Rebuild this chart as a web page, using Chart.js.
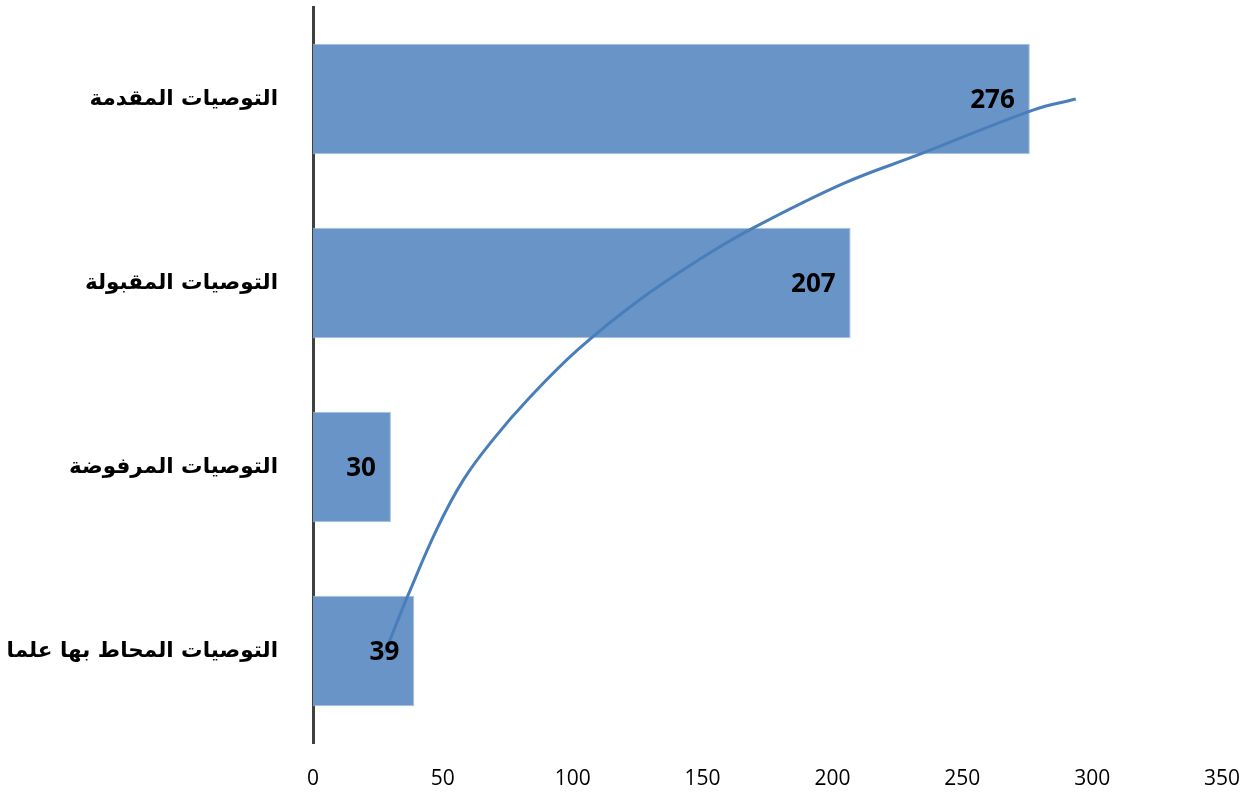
<!DOCTYPE html>
<html>
<head>
<meta charset="utf-8">
<script src="https://cdn.jsdelivr.net/npm/chart.js@4/dist/chart.umd.min.js"></script>
<style>
  html, body { margin: 0; padding: 0; background: #ffffff; }
  #wrap { width: 1257px; height: 792px; position: relative; }
</style>
</head>
<body>
<div id="wrap"><canvas id="c" width="1257" height="792"></canvas></div>
<script>
// Recommendation counts by status (top to bottom)
const categories = [
  'التوصيات المقدمة',
  'التوصيات المقبولة',
  'التوصيات المرفوضة',
  'التوصيات المحاط بها علما'
];
const counts = [276, 207, 30, 39];

// Trend line, sampled as (count, band position) pairs;
// band position 1 = centre of the bottom category, 4 = centre of the top one
const trendCounts    = [27.7, 31.6, 36.2, 47.6, 57.9, 69.4, 83.6, 102.2, 125.9, 149.0, 168.3, 204.1, 233.7, 277.2, 293.7];
const trendPositions = [0.99, 1.13, 1.29, 1.66, 1.93, 2.15, 2.38, 2.64,  2.91,  3.13,  3.29,  3.54,  3.70,  3.94,  4.00];

const xTicks = [0, 50, 100, 150, 200, 250, 300, 350];

const trendPoints = trendCounts.map((v, i) => ({ x: v, y: trendPositions[i] }));

// Value labels just inside the end of each bar
const barValueLabels = {
  id: 'barValueLabels',
  afterDatasetsDraw(chart) {
    const meta = chart.getDatasetMeta(0);
    const ctx = chart.ctx;
    ctx.save();
    ctx.font = 'bold 26px "Open Sans", "Liberation Sans", sans-serif';
    ctx.fillStyle = '#000000';
    ctx.textAlign = 'right';
    ctx.textBaseline = 'middle';
    meta.data.forEach((bar, i) => {
      ctx.fillText(String(counts[i]), bar.x - 15, bar.y + 2);
    });
    ctx.restore();
  }
};

new Chart(document.getElementById('c'), {
  type: 'bar',
  data: {
    labels: categories,
    datasets: [
      {
        type: 'bar',
        indexAxis: 'y',
        data: counts,
        backgroundColor: '#6994c7',
        borderColor: '#a9c1e0',
        borderWidth: 1,
        barPercentage: 0.6,
        categoryPercentage: 1.0,
        xAxisID: 'x',
        yAxisID: 'y',
        order: 2
      },
      {
        type: 'scatter',
        showLine: true,
        data: trendPoints,
        borderColor: '#4a7ebb',
        borderWidth: 3,
        pointRadius: 0,
        fill: false,
        tension: 0.4,
        xAxisID: 'x',
        yAxisID: 'yTrend',
        order: 1
      }
    ]
  },
  options: {
    responsive: false,
    animation: false,
    layout: { padding: { left: 0, right: 35, top: 7, bottom: 0 } },
    plugins: {
      legend: { display: false },
      tooltip: { enabled: false }
    },
    scales: {
      x: {
        type: 'linear',
        position: 'bottom',
        offset: false,
        min: 0,
        max: 350,
        afterBuildTicks(scale) { scale.ticks = xTicks.map(v => ({ value: v })); },
        afterFit(scale) {
          scale.height = 49;
          scale.paddingLeft = 0;
          scale.paddingRight = 0;
        },
        grid: { display: false, drawTicks: false, offset: false },
        border: { display: false },
        ticks: {
          padding: 23,
          color: '#000000',
          font: { family: '"Open Sans", "Liberation Sans", sans-serif', size: 21 }
        }
      },
      y: {
        type: 'category',
        position: 'left',
        offset: true,
        afterFit(scale) {
          scale.width = 313;
          scale.paddingTop = 0;
          scale.paddingBottom = 0;
        },
        grid: { display: false, drawTicks: false, offset: true },
        border: { display: true, color: '#404040', width: 3 },
        ticks: {
          padding: 35,
          color: '#000000',
          font: { family: '"DejaVu Sans", "Noto Sans", sans-serif', size: 21.5, weight: 'bold' }
        }
      },
      yTrend: {
        type: 'linear',
        position: 'left',
        display: false,
        offset: false,
        min: 0.5,
        max: 4.5
      }
    }
  },
  plugins: [barValueLabels]
});
</script>
</body>
</html>
